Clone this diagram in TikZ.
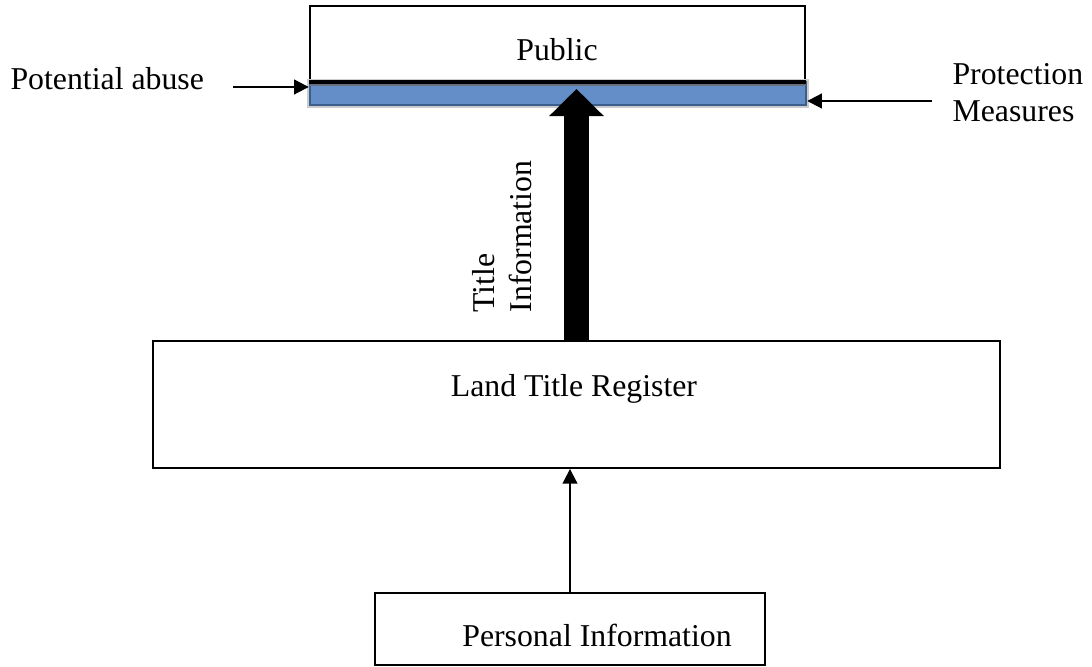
\documentclass[tikz,border=0pt]{standalone}
\usepackage{fontspec}
\setmainfont{Liberation Serif}
\usetikzlibrary{arrows.meta}
\definecolor{barblue}{RGB}{99,142,199}
\definecolor{bardark}{RGB}{60,94,140}
\definecolor{bargrey}{RGB}{104,112,124}

\begin{document}
\begin{tikzpicture}[
  x=0.3774pt, y=-0.3774pt,
  font=\fontsize{12}{14}\selectfont,
  box/.style={draw=black, line width=.75pt, inner sep=0pt, minimum width=#1},
  txt/.style={inner sep=0pt, anchor=base},
  thinarrow/.style={-{Triangle[length=5.5pt, width=5.5pt]}, line width=.75pt},
  bigarrow/.style={-{Triangle[length=10.2pt, width=20pt]}, line width=9.8pt}
]
\useasboundingbox (0,0) rectangle (1092,667);
% boxes
\node[box=186.8pt, minimum height=28.3pt] (pub) at (557.5,43.5) {};
\node[preaction={draw=gray!40, line width=2.6pt}, draw=bardark, line width=.9pt, fill=barblue, minimum width=187.2pt, minimum height=8.7pt, inner sep=0pt] (shield) at (558,93.5) {};
\fill[bargrey] ([xshift=.45pt,yshift=-.45pt]shield.north west) rectangle ([xshift=-.45pt,yshift=-2pt]shield.north east);
\draw[line width=1.3pt] (pub.south west) -- (pub.south east);
\node[box=319.7pt, minimum height=47.9pt] (ltr) at (576.5,404.5) {};
\node[box=147.2pt, minimum height=27.2pt] (pinfo) at (570,629) {};
% texts
\node[txt] (pubtext) at (557,61) {Public};
\node[txt] (ltrtext) at (574,397) {Land Title Register};
\node[txt] (pinfotext) at (597,647) {Personal Information};
\node[txt, anchor=base west] (abuse) at (10,90) {Potential abuse};
\node[txt, anchor=base west, align=left] (protect) at (952,122) {Protection\\Measures};
\node[inner sep=0pt, rotate=90, align=left, anchor=south west] (titleinfo) at (532,313) {Title\\Information};
% arrows
\coordinate (tip) at (576.5,89);
\coordinate (abusetail) at (233,87);
\coordinate (protecttail) at (932,101);
\draw[bigarrow] (ltr.north) -- (tip);
\draw[thinarrow] (pinfo.north) -- (pinfo.north |- ltr.south);
\draw[thinarrow] (abusetail) -- (abusetail -| shield.west);
\draw[thinarrow] (protecttail) -- (protecttail -| shield.east);
\end{tikzpicture}
\end{document}
